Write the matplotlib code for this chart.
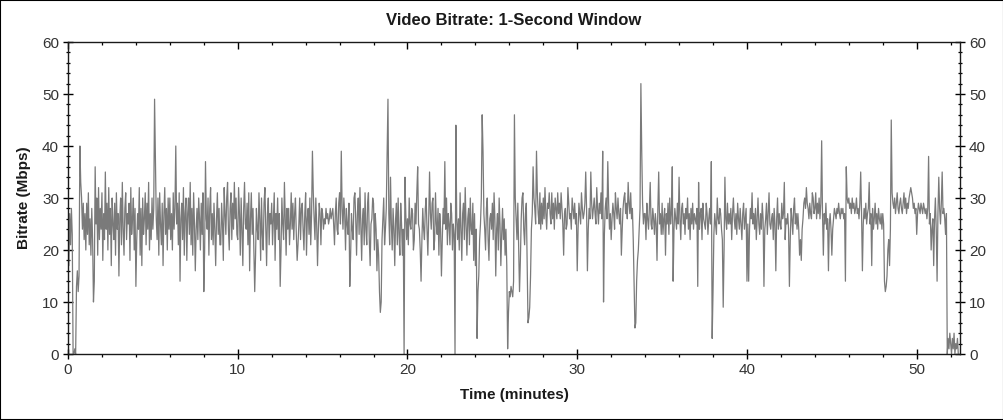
import numpy as np
import matplotlib
matplotlib.use("Agg")
import matplotlib.pyplot as plt
from matplotlib.ticker import MultipleLocator
from matplotlib.patches import Rectangle

plt.rcParams['font.family'] = ['Liberation Sans', 'DejaVu Sans']

# sample spacing (minutes) of the bitrate readings below
sample_step_min = 0.05

# Bitrate (Mbps), 20 readings per minute, grouped by 10-minute blocks
bitrate_00_10 = [
    24, 17, 27, 21, 28, 23, 0, 0, 1, 0, 13, 16, 12, 15, 40, 33, 30, 24, 29, 22,
    27, 20, 29, 23, 31, 21, 26, 19, 28, 22, 10, 14, 36, 25, 30, 19, 32, 22, 28, 24,
    31, 18, 27, 22, 35, 24, 29, 20, 32, 23, 28, 17, 30, 25, 22, 29, 19, 31, 24, 27,
    15, 26, 30, 21, 33, 24, 19, 28, 31, 22, 27, 25, 29, 18, 32, 23, 26, 30, 20, 28,
    13, 22, 27, 24, 32, 19, 28, 17, 30, 23, 26, 31, 21, 29, 24, 33, 20, 27, 22, 30,
    24, 28, 49, 37, 26, 22, 30, 19, 31, 25, 21, 29, 17, 27, 32, 23, 28, 20, 30, 24,
    30, 22, 27, 20, 31, 24, 28, 40, 25, 29, 21, 31, 14, 26, 29, 22, 32, 19, 27, 30,
    18, 27, 30, 23, 33, 21, 28, 19, 31, 25, 16, 24, 28, 22, 30, 26, 20, 29, 23, 31,
    12, 20, 37, 26, 24, 30, 19, 28, 32, 22, 27, 21, 29, 24, 17, 26, 31, 23, 28, 21,
    21, 29, 25, 18, 32, 27, 23, 30, 33, 24, 20, 28, 31, 22, 29, 24, 33, 26, 30, 23,
]
bitrate_10_20 = [
    22, 32, 27, 19, 30, 24, 17, 28, 33, 25, 24, 29, 21, 31, 16, 26, 31, 23, 28, 20,
    12, 19, 28, 24, 22, 31, 26, 18, 30, 23, 20, 29, 32, 24, 17, 27, 30, 21, 27, 25,
    29, 21, 26, 31, 18, 27, 24, 30, 22, 27, 13, 20, 30, 25, 22, 33, 26, 19, 28, 24,
    28, 21, 25, 31, 24, 29, 22, 27, 30, 23, 18, 21, 25, 30, 22, 28, 29, 24, 20, 27,
    31, 19, 26, 28, 23, 30, 21, 27, 39, 31, 26, 22, 30, 25, 17, 24, 29, 27, 21, 28,
    27, 24, 26, 25, 28, 26, 27, 25, 26, 28, 26, 27, 28, 25, 21, 27, 30, 24, 23, 29,
    31, 25, 39, 28, 24, 30, 27, 20, 28, 25, 23, 29, 13, 19, 27, 24, 22, 30, 31, 26,
    19, 27, 30, 23, 32, 25, 18, 26, 28, 21, 31, 24, 21, 29, 31, 22, 17, 25, 26, 30,
    29, 20, 27, 24, 16, 22, 19, 12, 8, 10, 22, 26, 30, 21, 24, 28, 39, 49, 27, 21,
    34, 25, 20, 28, 24, 17, 26, 29, 21, 30, 23, 19, 29, 25, 19, 24, 0, 34, 27, 22,
]
bitrate_20_30 = [
    26, 21, 30, 25, 24, 28, 27, 20, 22, 29, 25, 31, 36, 25, 24, 20, 14, 22, 28, 24,
    22, 28, 30, 24, 19, 26, 35, 27, 24, 29, 30, 20, 22, 31, 25, 23, 28, 19, 27, 24,
    15, 22, 28, 25, 37, 24, 30, 21, 27, 25, 21, 29, 27, 20, 25, 23, 0, 44, 26, 22,
    26, 20, 31, 24, 18, 27, 29, 22, 32, 25, 19, 26, 28, 21, 30, 24, 23, 29, 18, 27,
    17, 24, 3, 12, 15, 22, 25, 30, 46, 39, 27, 24, 20, 28, 30, 22, 18, 26, 27, 24,
    29, 22, 31, 26, 15, 24, 27, 20, 30, 25, 17, 23, 28, 22, 26, 19, 24, 17, 1, 8,
    12, 11, 13, 12, 11, 14, 46, 30, 26, 22, 29, 20, 12, 18, 26, 30, 31, 24, 21, 27,
    29, 17, 6, 7, 9, 15, 24, 27, 36, 30, 28, 25, 39, 31, 27, 25, 31, 24, 29, 25,
    30, 26, 32, 27, 24, 29, 28, 31, 27, 25, 31, 26, 29, 24, 30, 28, 26, 31, 27, 29,
    26, 31, 28, 25, 19, 27, 28, 24, 25, 32, 29, 26, 27, 24, 30, 28, 26, 29, 25, 27,
]
bitrate_30_40 = [
    16, 24, 29, 27, 25, 31, 28, 26, 27, 29, 35, 28, 16, 24, 28, 26, 35, 29, 26, 28,
    30, 27, 25, 32, 28, 25, 29, 27, 31, 26, 39, 10, 23, 28, 30, 26, 37, 29, 24, 27,
    22, 26, 29, 27, 24, 31, 28, 26, 30, 27, 25, 28, 19, 24, 28, 30, 31, 27, 29, 26,
    33, 29, 27, 31, 26, 28, 22, 14, 5, 6, 14, 18, 20, 24, 28, 52, 39, 29, 25, 27,
    27, 22, 29, 26, 24, 28, 33, 25, 24, 28, 26, 23, 27, 25, 18, 28, 35, 25, 27, 23,
    29, 23, 26, 28, 19, 27, 25, 29, 23, 30, 25, 27, 36, 14, 24, 28, 26, 24, 29, 25,
    34, 26, 22, 28, 29, 25, 27, 23, 28, 26, 30, 24, 27, 22, 28, 25, 29, 24, 27, 26,
    25, 28, 13, 33, 24, 27, 28, 22, 29, 26, 25, 24, 29, 27, 23, 26, 28, 25, 37, 3,
    12, 23, 27, 25, 23, 30, 26, 25, 28, 27, 24, 22, 9, 20, 34, 26, 24, 29, 25, 27,
    25, 28, 22, 27, 30, 26, 24, 27, 23, 29, 26, 24, 28, 25, 22, 27, 29, 24, 26, 28,
]
bitrate_40_end = [
    14, 25, 14, 24, 28, 26, 31, 25, 27, 24, 28, 22, 26, 30, 25, 23, 27, 24, 29, 26,
    13, 24, 26, 29, 23, 27, 31, 25, 24, 26, 27, 22, 28, 25, 16, 26, 30, 24, 27, 25,
    24, 29, 26, 27, 33, 22, 26, 25, 27, 24, 13, 22, 28, 26, 23, 28, 30, 25, 27, 24,
    27, 24, 19, 22, 18, 24, 26, 29, 30, 28, 32, 29, 28, 26, 29, 27, 26, 31, 30, 27,
    28, 31, 26, 29, 27, 30, 26, 29, 41, 27, 19, 27, 25, 29, 24, 26, 16, 25, 27, 24,
    19, 24, 26, 28, 27, 26, 28, 27, 29, 27, 26, 28, 27, 28, 26, 27, 14, 36, 30, 29,
    30, 28, 29, 27, 30, 28, 29, 27, 28, 30, 27, 28, 26, 29, 35, 27, 16, 25, 28, 26,
    29, 25, 27, 28, 33, 25, 27, 17, 28, 24, 26, 29, 25, 27, 24, 28, 26, 25, 27, 24,
    27, 25, 14, 12, 13, 15, 20, 22, 17, 24, 45, 31, 29, 28, 30, 27, 29, 31, 28, 27,
    29, 30, 28, 27, 29, 31, 28, 30, 27, 29, 28, 30, 31, 32, 31, 30, 28, 29, 27, 28,
    23, 27, 29, 28, 27, 29, 28, 27, 29, 28, 27, 28, 26, 28, 38, 25, 27, 20, 24, 26,
    17, 26, 30, 24, 14, 27, 34, 28, 25, 29, 35, 27, 28, 26, 23, 27, 0, 3, 1, 4,
    2, 0, 3, 1, 4, 0, 2, 1, 3, 0,
]

bitrate = np.array(bitrate_00_10 + bitrate_10_20 + bitrate_20_30
                   + bitrate_30_40 + bitrate_40_end, dtype=float)
time_min = np.arange(len(bitrate)) * sample_step_min

title = "Video Bitrate: 1-Second Window"
xlabel = "Time (minutes)"
ylabel = "Bitrate (Mbps)"

fig = plt.figure(figsize=(10.04, 4.20), dpi=100)
ax = fig.add_axes([68 / 1004, 66 / 420, (960 - 68) / 1004, (354 - 42) / 420])

ax.plot(time_min, bitrate, color="#7a7a7a", lw=0.9)

ax.set_xlim(0, 52.55)
ax.set_ylim(0, 60)

ax.xaxis.set_major_locator(MultipleLocator(10))
ax.xaxis.set_minor_locator(MultipleLocator(2))
ax.yaxis.set_major_locator(MultipleLocator(10))
ax.yaxis.set_minor_locator(MultipleLocator(2))

for s in ax.spines.values():
    s.set_color("#1a1a1a")
    s.set_linewidth(1.0)

ax.tick_params(axis="y", which="major", direction="inout", length=7,
               width=1.0, left=True, right=True, labelleft=True,
               labelright=True, labelsize=11, labelcolor="#333333", pad=3)
ax.tick_params(axis="y", which="minor", direction="inout", length=3.5,
               width=0.9, left=True, right=True)
ax.tick_params(axis="x", which="major", direction="inout", length=7.5,
               width=1.0, bottom=True, top=False, labelsize=11,
               labelcolor="#333333", pad=3)
ax.tick_params(axis="x", which="minor", direction="out", length=2.5,
               width=0.9, bottom=True, top=False)

top = ax.secondary_xaxis("top")
top.xaxis.set_major_locator(MultipleLocator(10))
top.xaxis.set_minor_locator(MultipleLocator(2))
top.tick_params(which="major", direction="in", length=5, width=1.0,
                labeltop=False)
top.tick_params(which="minor", direction="in", length=2.5, width=0.9)
top.spines["top"].set_visible(False)

ax.set_title(title, fontsize=12, fontweight="bold", color="#1a1a1a", pad=12)
ax.set_xlabel(xlabel, fontsize=11, fontweight="bold", color="#1a1a1a", labelpad=8)
ax.set_ylabel(ylabel, fontsize=11, fontweight="bold", color="#1a1a1a", labelpad=8)

fig.patches.append(Rectangle((0, 0), 1, 1, transform=fig.transFigure,
                             fill=False, edgecolor="black", lw=1.5))

fig.savefig("out.png", dpi=100)
